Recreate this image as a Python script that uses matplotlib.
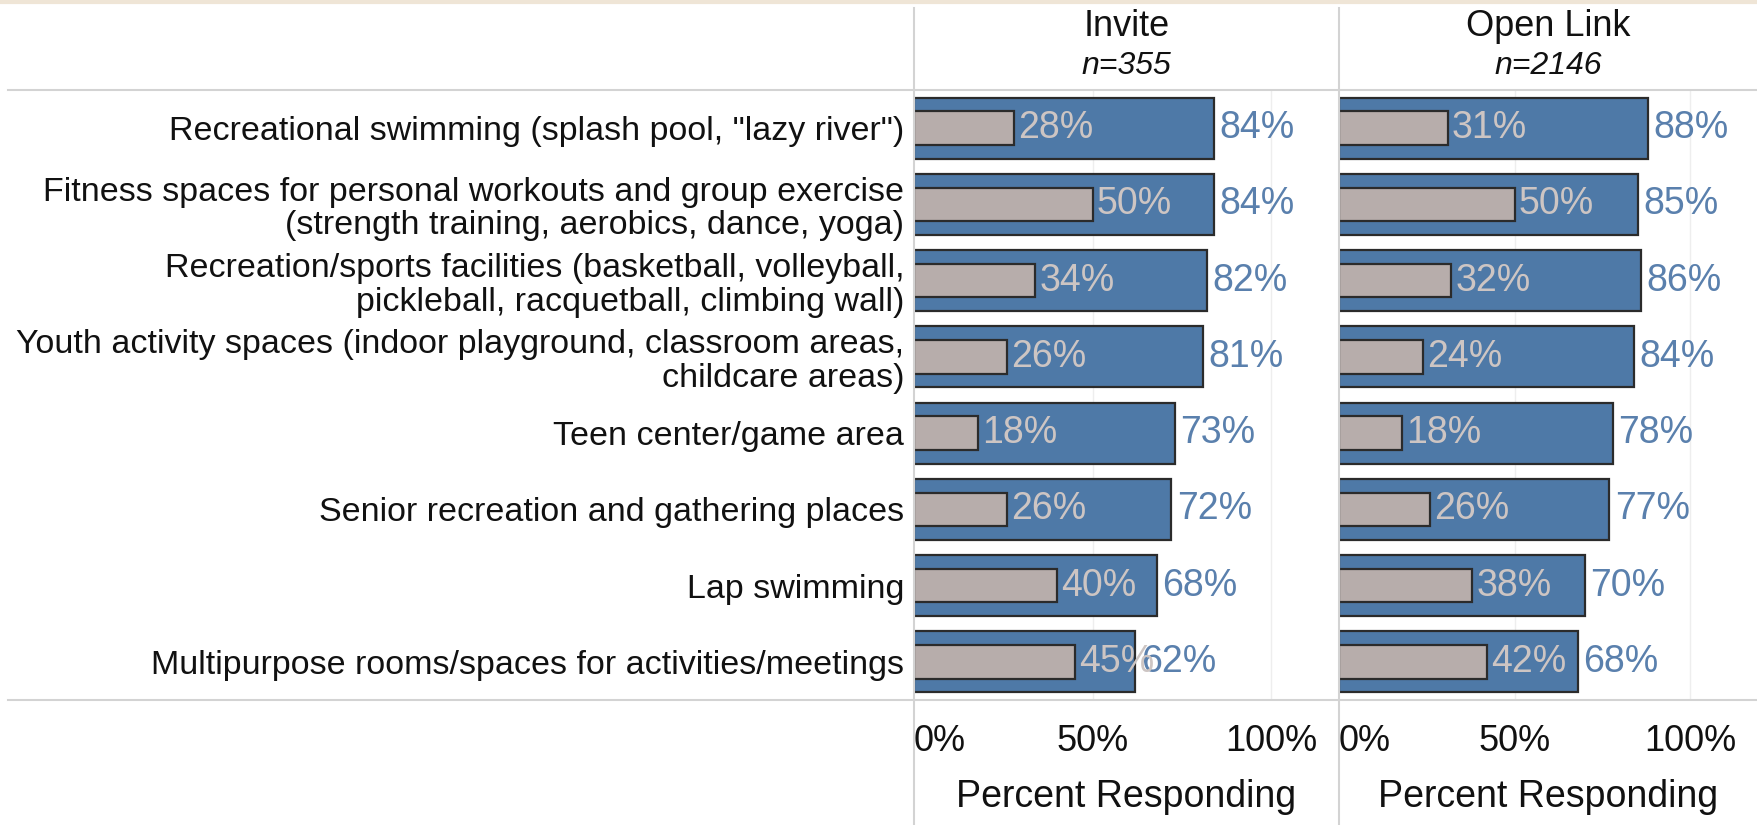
import matplotlib.pyplot as plt
from matplotlib.lines import Line2D

plt.rcParams['font.family'] = ['Liberation Sans', 'DejaVu Sans']

# Data
categories = [
    'Recreational swimming (splash pool, "lazy river")',
    'Fitness spaces for personal workouts and group exercise\n(strength training, aerobics, dance, yoga)',
    'Recreation/sports facilities (basketball, volleyball,\npickleball, racquetball, climbing wall)',
    'Youth activity spaces (indoor playground, classroom areas,\nchildcare areas)',
    'Teen center/game area',
    'Senior recreation and gathering places',
    'Lap swimming',
    'Multipurpose rooms/spaces for activities/meetings',
]
panel_titles = ['Invite', 'Open Link']
panel_n = ['n=355', 'n=2146']
invite_total = [84, 84, 82, 81, 73, 72, 68, 62]
invite_top = [28, 50, 34, 26, 18, 26, 40, 45]
open_total = [88, 85, 86, 84, 78, 77, 70, 68]
open_top = [31, 50, 32, 24, 18, 26, 38, 42]
tick_values = [0, 50, 100]
tick_labels = ['0%', '50%', '100%']

blue = '#4e79a7'
gray_fill = '#b7adab'
blue_text = '#5a80ad'
gray_text = '#cdc5c3'
edge = '#2b2b2b'
line_col = '#d3d3d3'

W, H = 1757, 825
fig = plt.figure(figsize=(W / 100, H / 100), dpi=100)

top_px, bot_px = 90, 700
panels = [(914, 1339), (1339, 1757)]
series = [(invite_total, invite_top), (open_total, open_top)]

y = list(range(len(categories)))
for i, ((x0, x1), (tot, sub)) in enumerate(zip(panels, series)):
    ax = fig.add_axes([x0 / W, 1 - bot_px / H, (x1 - x0) / W, (bot_px - top_px) / H])
    ax.set_xlim(0, 119)
    ax.set_ylim(len(categories) - 0.5, -0.5)
    for v in (50, 100):
        ax.axvline(v, color='#eeeeee', lw=1, zorder=0)
    ax.barh(y, tot, height=0.8, color=blue, edgecolor=edge, linewidth=1.6, zorder=2)
    ax.barh(y, sub, height=0.44, color=gray_fill, edgecolor=edge, linewidth=1.6, zorder=3)
    for yi, t, s in zip(y, tot, sub):
        ax.annotate(f'{t}%', (t, yi), xytext=(4, 0), textcoords='offset points',
                    ha='left', va='center', fontsize=27, color=blue_text, zorder=4)
        ax.annotate(f'{s}%', (s, yi), xytext=(3, 0), textcoords='offset points',
                    ha='left', va='center', fontsize=27, color=gray_text, zorder=4)
    for sp in ax.spines.values():
        sp.set_visible(False)
    ax.set_xticks(tick_values)
    ax.set_xticklabels(tick_labels, fontsize=26, color='#111111')
    ax.get_xticklabels()[0].set_ha('left')
    ax.tick_params(axis='x', length=0, pad=17)
    ax.set_xlabel('Percent Responding', fontsize=27, color='#111111')
    ax.xaxis.set_label_coords(0.5, -0.129)
    if i == 0:
        ax.set_yticks(y)
        ax.set_yticklabels(categories, fontsize=24.5, color='#111111', linespacing=1.1)
        ax.tick_params(axis='y', length=0, pad=7)
    else:
        ax.set_yticks([])
    cx = (x0 + x1) / 2 / W
    fig.text(cx, 1 - 27 / H, panel_titles[i], ha='center', va='center', fontsize=26, color='#111111')
    fig.text(cx, 1 - 66 / H, panel_n[i], ha='center', va='center', fontsize=23,
             style='italic', color='#111111')

# separator lines
for x0, _ in panels:
    fig.add_artist(Line2D([x0 / W, x0 / W], [0, 1 - 8 / H], transform=fig.transFigure,
                          color=line_col, lw=1.5))
for yp in (top_px, bot_px):
    fig.add_artist(Line2D([8 / W, 1], [1 - yp / H, 1 - yp / H], transform=fig.transFigure,
                          color=line_col, lw=1.5))
fig.add_artist(Line2D([0, 1], [1 - 1.5 / H, 1 - 1.5 / H], transform=fig.transFigure,
                      color='#efe5d6', lw=3))

fig.savefig('out.png', dpi=100)
